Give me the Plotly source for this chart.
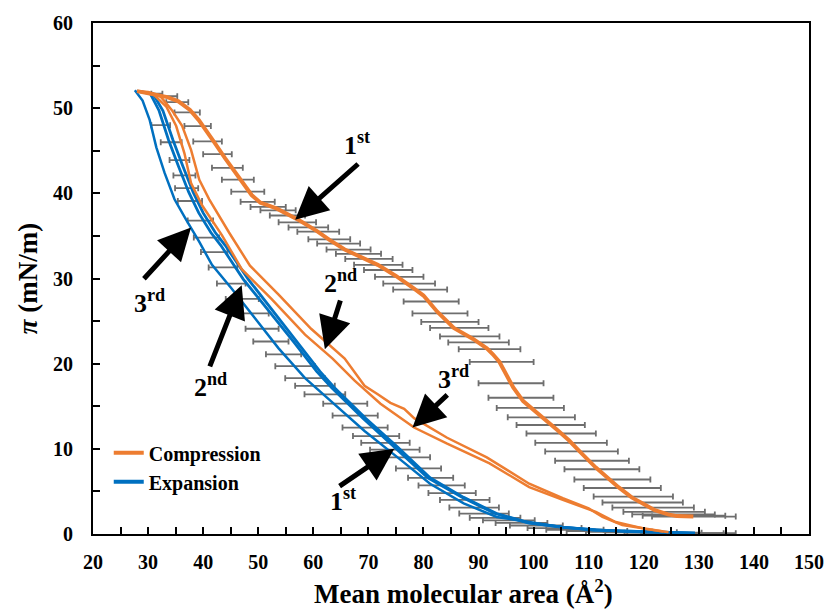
import plotly.graph_objects as go

# ---- isotherm data: mean molecular area (Å²) vs surface pressure π (mN/m) ----
comp1_area = [129.0, 126.0, 124.4, 122.0, 120.3, 117.8, 115.4, 113.3, 111.3, 108.8, 106.4, 104.3,
              102.3, 100.2, 98.1, 96.3, 95.0, 93.8, 92.6, 91.5, 89.0, 85.5, 82.5, 80.0, 78.3, 75.0,
              71.7, 68.5, 65.7, 63.0, 60.6, 57.5, 55.2, 53.4, 51.8, 50.4, 48.8, 46.3, 44.0, 42.0,
              40.8, 39.2, 37.6, 35.5, 33.5, 31.3, 29.5, 28.0]
comp1_pi = [2.05, 2.1, 2.3, 2.8, 3.4, 4.3, 5.5, 6.7, 7.8, 9.4, 11.0, 12.2, 13.3, 14.4, 15.6, 17.2,
            18.7, 20.2, 21.1, 21.8, 22.9, 24.2, 26.1, 28.0, 28.8, 30.3, 31.6, 32.6, 33.4, 34.5, 35.6,
            36.8, 37.6, 38.2, 38.6, 38.9, 39.8, 42.0, 44.1, 46.0, 47.1, 48.6, 49.8, 50.8, 51.3, 51.6,
            51.9, 52.0]

comp2_area = [124.5, 120.3, 116.1, 112.5, 110.0, 105.3, 99.2, 94.5, 91.5, 84.3, 78.3, 76.5, 74.0,
              71.7, 69.3, 65.7, 59.6, 53.7, 48.5, 44.7, 41.1, 39.3, 37.8, 36.2, 34.4, 32.1, 30.0, 28.0]
comp2_pi = [0.2, 0.6, 1.05, 2.0, 3.0, 4.2, 5.9, 7.8, 9.0, 11.3, 13.6, 14.7, 15.4, 16.4, 17.4, 20.6,
            24.1, 28.1, 31.5, 35.4, 39.3, 41.6, 45.1, 47.9, 49.7, 51.5, 51.9, 52.0]

comp3_area = [123.5, 120.3, 114.9, 111.3, 105.3, 99.2, 92.0, 84.3, 78.3, 72.2, 67.5, 63.5, 58.5,
              52.4, 47.0, 43.4, 39.8, 37.8, 36.6, 35.1, 33.3, 30.8, 28.0]
comp3_pi = [0.3, 0.6, 1.4, 2.6, 4.0, 5.5, 8.3, 10.6, 12.5, 15.3, 18.0, 20.6, 23.4, 27.6, 31.1, 35.1,
            38.6, 41.2, 44.7, 47.9, 50.2, 51.7, 52.0]

exp1_area = [129.3, 117.0, 111.3, 105.3, 99.2, 93.3, 87.3, 81.2, 75.3, 69.5, 63.8, 61.2, 57.0, 52.8,
             48.2, 44.0, 42.2, 40.0, 38.2, 36.3, 34.5, 32.7, 30.9, 28.0]
exp1_pi = [0.1, 0.3, 0.45, 0.8, 1.3, 2.4, 4.3, 6.6, 10.2, 13.6, 17.2, 19.1, 22.6, 26.1, 29.9, 33.9,
           35.4, 37.7, 40.1, 43.2, 46.3, 49.7, 51.7, 52.0]

exp2_area = [129.3, 117.0, 111.0, 105.0, 99.0, 93.0, 87.0, 80.8, 74.8, 69.0, 63.3, 60.6, 56.4, 52.0,
             47.3, 43.2, 41.4, 39.2, 37.4, 35.5, 33.7, 32.0, 30.4, 28.0]
exp2_pi = [0.1, 0.3, 0.45, 0.8, 1.3, 2.4, 4.3, 6.6, 10.2, 13.6, 17.2, 19.1, 22.6, 26.1, 29.9, 33.9,
           35.4, 37.7, 40.1, 43.2, 46.3, 49.7, 51.7, 52.0]

exp3_area = [129.3, 117.2, 105.3, 99.2, 93.3, 87.3, 81.2, 75.3, 69.3, 63.2, 58.5, 53.7, 49.5, 45.2,
             41.6, 39.3, 36.9, 34.8, 33.0, 31.5, 30.3, 29.0, 27.6]
exp3_pi = [0.1, 0.25, 0.8, 1.4, 2.0, 3.6, 5.9, 9.0, 12.1, 15.6, 18.3, 21.8, 25.3, 28.8, 31.6, 34.3,
           36.9, 39.3, 42.4, 45.4, 48.6, 50.9, 52.1]

# averaged points with standard deviation of the area (horizontal error bars)
errc_area = [31.6, 33.4, 35.3, 37.1, 39.0, 40.8, 42.6, 44.4, 46.3, 48.1, 49.9, 51.8, 53.6, 55.3,
             57.1, 59.1, 60.9, 62.9, 64.6, 66.4, 68.2, 70.1, 71.8, 73.6, 75.6, 77.4, 79.4, 81.4,
             83.0, 84.8, 86.5, 88.4, 90.0, 92.0, 94.2, 95.9, 97.7, 99.4, 101.4, 103.1, 105.0, 106.8,
             108.7, 110.6, 112.4, 114.3, 116.1, 118.1, 119.8, 121.7, 123.7, 125.4, 127.3, 129.1]
errc_pi = [51.7, 51.4, 50.7, 49.5, 47.9, 46.1, 44.6, 43.0, 41.6, 40.2, 39.0, 38.4, 38.0, 37.4, 36.6,
           36.0, 35.5, 34.6, 34.1, 33.4, 32.9, 32.3, 31.6, 31.0, 30.2, 29.4, 28.7, 27.3, 25.9, 24.9,
           24.2, 23.2, 22.5, 21.7, 20.2, 17.7, 16.0, 14.8, 13.7, 12.8, 11.8, 10.7, 9.7, 8.6, 7.6,
           6.4, 5.4, 4.4, 3.7, 3.1, 2.6, 2.3, 2.15, 2.05]
errc_sd = [1.0, 1.9, 2.0, 2.3, 2.4, 2.6, 2.6, 2.8, 2.9, 3.0, 3.1, 3.2, 3.2, 3.2, 3.4, 3.6, 3.8, 3.8,
           3.9, 4.0, 4.1, 4.3, 4.4, 4.4, 4.4, 4.7, 4.9, 5.0, 5.0, 5.2, 5.3, 5.4, 5.5, 5.6, 5.8, 5.9,
           5.9, 6.1, 6.1, 6.2, 6.3, 6.5, 6.6, 6.7, 6.8, 6.9, 7.0, 7.2, 7.3, 7.4, 7.4, 7.5, 7.5, 7.6]

erre_area = [32.3, 34.2, 35.7, 36.6, 37.0, 37.6, 39.5, 40.6, 42.0, 43.6, 45.1, 47.1, 48.7, 50.7,
             52.3, 54.6, 56.7, 58.5, 60.3, 62.1, 65.8, 67.6, 69.4, 71.4, 73.1, 74.8, 77.0, 79.1,
             81.3, 83.3, 85.2, 87.5, 89.2, 91.0, 93.0, 95.5, 97.8, 100.5, 103.8, 107.5, 111.5,
             115.5, 119.5, 123.5, 127.0, 129.5]
erre_pi = [48.0, 46.0, 43.9, 42.1, 40.6, 39.1, 36.8, 34.8, 33.1, 31.3, 29.4, 27.6, 25.9, 24.1, 22.6,
           21.1, 19.7, 18.3, 17.4, 16.4, 15.3, 13.9, 12.5, 11.5, 10.7, 9.9, 9.0, 7.7, 6.6, 5.7, 4.8,
           4.0, 3.1, 2.4, 1.9, 1.6, 1.3, 1.0, 0.7, 0.5, 0.35, 0.25, 0.2, 0.15, 0.1, 0.1]
erre_sd = [1.7, 1.9, 1.8, 2.0, 2.1, 2.2, 2.3, 2.3, 2.4, 2.6, 2.6, 3.0, 3.2, 3.0, 3.2, 3.2, 3.6, 3.6,
           3.6, 3.7, 4.0, 4.1, 4.1, 4.2, 4.4, 4.5, 4.2, 4.1, 4.1, 4.2, 4.3, 4.5, 4.5, 4.5, 4.6, 4.7,
           4.7, 4.8, 4.9, 5.2, 5.5, 6.0, 6.5, 7.0, 7.5, 7.2]

ORANGE = "#ED7D31"
BLUE = "#0070C0"
GREY = "#6E6E6E"
SERIF = "Liberation Serif"

fig = go.Figure()

# error bars first so the isotherms sit on top
for ax_, py_, sd_ in [(errc_area, errc_pi, errc_sd), (erre_area, erre_pi, erre_sd)]:
    fig.add_trace(go.Scatter(
        x=ax_, y=py_, mode="markers", showlegend=False, hoverinfo="skip",
        marker=dict(size=1, color="rgba(0,0,0,0)"),
        error_x=dict(type="data", array=sd_, visible=True, color=GREY, thickness=1.8, width=3),
    ))

# expansion isotherms
fig.add_trace(go.Scatter(x=exp3_area, y=exp3_pi, mode="lines", line=dict(color=BLUE, width=2.5),
                         showlegend=False))
fig.add_trace(go.Scatter(x=exp2_area, y=exp2_pi, mode="lines", line=dict(color=BLUE, width=2.8),
                         showlegend=False))
fig.add_trace(go.Scatter(x=exp1_area, y=exp1_pi, mode="lines", line=dict(color=BLUE, width=2.8),
                         showlegend=False))

# compression isotherms
fig.add_trace(go.Scatter(x=comp3_area, y=comp3_pi, mode="lines", line=dict(color=ORANGE, width=2.5),
                         showlegend=False))
fig.add_trace(go.Scatter(x=comp2_area, y=comp2_pi, mode="lines", line=dict(color=ORANGE, width=2.5),
                         showlegend=False))
fig.add_trace(go.Scatter(x=comp1_area, y=comp1_pi, mode="lines", line=dict(color=ORANGE, width=4),
                         showlegend=False))

# legend entries
fig.add_trace(go.Scatter(x=[None], y=[None], mode="lines", name="Compression",
                         line=dict(color=ORANGE, width=4)))
fig.add_trace(go.Scatter(x=[None], y=[None], mode="lines", name="Expansion",
                         line=dict(color=BLUE, width=4)))

# cycle labels: (text x, text y, label, arrow tail x, tail y, tip x, tip y)
labels = [
    (68.0, 45.9, "1<sup>st</sup>", 68.4, 43.6, 56.7, 36.9),
    (65.0, 29.6, "2<sup>nd</sup>", 65.0, 27.6, 62.1, 21.7),
    (85.4, 18.4, "3<sup>rd</sup>", 84.6, 16.5, 78.0, 12.5),
    (30.3, 27.3, "3<sup>rd</sup>", 29.0, 29.8, 37.8, 36.0),
    (41.4, 17.4, "2<sup>nd</sup>", 41.1, 19.5, 47.0, 29.2),
    (65.4, 4.0, "1<sup>st</sup>", 64.5, 5.5, 74.7, 10.0),
]
annotations = []
for tx, ty, txt, axx, ayy, hx, hy in labels:
    annotations.append(dict(x=tx, y=ty, xref="x", yref="y", text=txt, showarrow=False,
                            font=dict(family=SERIF, size=26, color="black", weight="bold")))
    annotations.append(dict(x=hx, y=hy, ax=axx, ay=ayy, xref="x", yref="y", axref="x", ayref="y",
                            text="", showarrow=True, arrowhead=2, arrowsize=1.3, arrowwidth=5,
                            arrowcolor="black"))

# x-axis title, set slightly right of the plot centre
annotations.append(dict(x=0.518, y=-0.113, xref="paper", yref="paper", xanchor="center",
                        yanchor="middle", showarrow=False,
                        text="Mean molecular area (Å<sup>2</sup>)",
                        font=dict(family=SERIF, size=27, color="black", weight="bold")))

tickfont = dict(family=SERIF, size=20, color="black", weight="bold")
axis_common = dict(
    showgrid=False, zeroline=False, showline=True, linecolor="black", linewidth=2, mirror=True,
    ticks="inside", ticklen=7, tickwidth=2, tickcolor="black", tickfont=tickfont,
)

fig.update_layout(
    width=836, height=612,
    margin=dict(l=93, r=21, t=19, b=78),
    paper_bgcolor="white", plot_bgcolor="white",
    xaxis=dict(range=[20, 150], tick0=20, dtick=10, ticklabelstandoff=9,
               minor=dict(dtick=5, ticks="inside", ticklen=7, tickwidth=2, tickcolor="black"),
               **axis_common),
    yaxis=dict(range=[0, 60], tick0=0, dtick=10, ticklabelstandoff=14,
               minor=dict(dtick=5, ticks="inside", ticklen=7, tickwidth=2, tickcolor="black"),
               title=dict(text="<i>π</i> (mN/m)", standoff=8,
                          font=dict(family=SERIF, size=27, color="black", weight="bold")),
               **axis_common),
    legend=dict(x=0.022, y=0.197, xanchor="left", yanchor="top", bgcolor="rgba(0,0,0,0)",
                font=dict(family=SERIF, size=20, color="black", weight="bold"),
                tracegroupgap=2, itemwidth=30),
    annotations=annotations,
)

fig.write_html("out.html")
